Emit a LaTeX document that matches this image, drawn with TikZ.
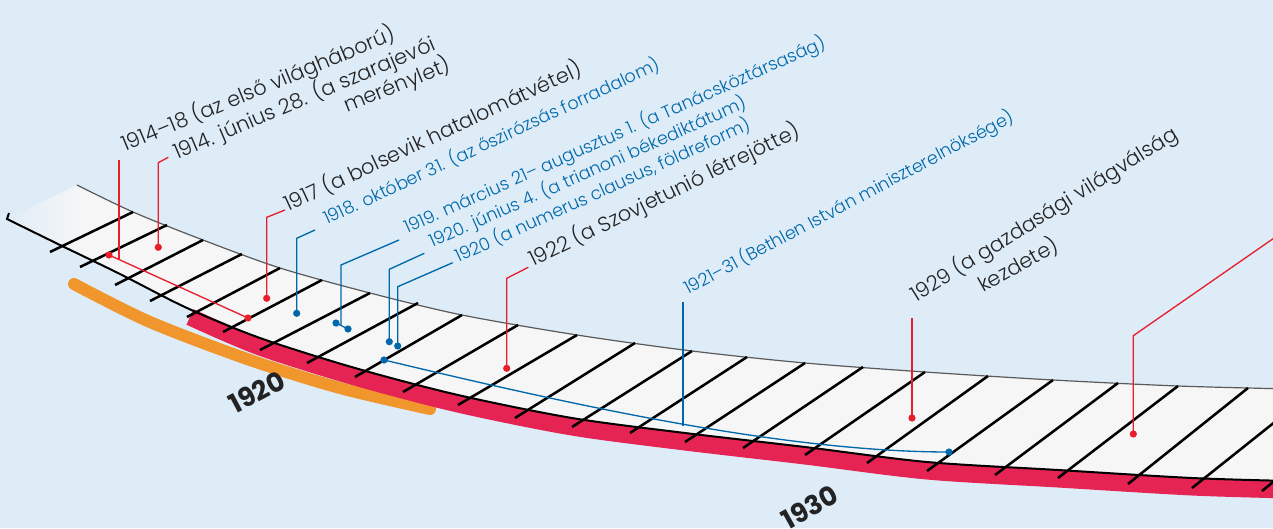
\documentclass[tikz,border=0pt]{standalone}
\usepackage{fontspec}
\setmainfont{Poppins Light}[BoldFont=Poppins Bold]
\usetikzlibrary{fadings}
\definecolor{bgc}{RGB}{222,236,248}
\definecolor{bandc}{RGB}{246,246,246}
\definecolor{cRed}{RGB}{232,30,45}
\definecolor{cBlue}{RGB}{0,104,170}
\definecolor{cBand}{RGB}{229,36,84}
\definecolor{cOrange}{RGB}{241,150,45}
\definecolor{cText}{RGB}{35,35,35}
\definecolor{cTop}{RGB}{90,90,90}
\tikzfading[name=fadeR, left color=transparent!0, right color=transparent!100]
\tikzset{
  ktxt/.style={anchor=base west, inner sep=0pt, font=\fontsize{15.6}{18}\selectfont, text=cText},
  btxt/.style={anchor=base west, inner sep=0pt, font=\fontsize{13.2}{15}\selectfont, text=cBlue},
  yr/.style={inner sep=0pt, font=\bfseries\fontsize{20}{22}\selectfont, text=cText},
  rline/.style={draw=cRed, line width=1pt},
  bline/.style={draw=cBlue, line width=1pt},
  rdot/.style={circle, fill=cRed, inner sep=0pt, minimum size=5.4pt},
  bdot/.style={circle, fill=cBlue, inner sep=0pt, minimum size=5.4pt},
  tickln/.style={draw=black, line width=1.9pt},
}
\begin{document}
\begin{tikzpicture}[x=0.75pt,y=-0.75pt]
\useasboundingbox (0,0) rectangle (1273,528);
\clip (0,0) rectangle (1273,528);
\fill[bgc] (0,0) rectangle (1273,528);
% band
\fill[bandc] plot[smooth] coordinates {(7,219) (60,245) (120,274) (187,308) (260,338) (355,368) (458,395) (572,418) (685,433) (805,447) (927,462) (1058,470) (1192,478) (1290,481)}
  -- plot[smooth] coordinates {(1290,389) (1178,386) (1053,380) (925,372) (805,363) (692,351) (577,335) (462,315) (370,293) (280,268) (203,240) (133,212) (77,185)} -- cycle;
\fill[bgc, path fading=fadeR] (0,170) rectangle (80,280);
% orange band
\draw[cOrange, line width=9pt, line cap=round] plot[smooth] coordinates {(74,284) (150,322) (250,360) (340,388) (430,409)};
% red band
\draw[cBand, line width=12.75pt] plot[smooth] coordinates {(190,317) (260,347) (355,377) (458,404) (572,427) (685,442) (805,456) (927,471) (1058,479) (1192,487) (1290,490)};
% top line
\draw[cTop, line width=0.9pt] plot[smooth] coordinates {(77,185) (133,212) (203,240) (280,268) (370,293) (462,315) (577,335) (692,351) (805,363) (925,372) (1053,380) (1178,386) (1290,389)};
% bottom line
\draw[black, line width=1.5pt] (9,213) -- plot[smooth] coordinates {(7,219) (60,245) (120,274) (187,308) (260,338) (355,368) (458,395) (572,418) (685,433) (805,447) (927,462) (1058,470) (1192,478) (1290,481)};
% ticks
\foreach \a/\b/\c/\d in {50/252/133/212, 80/267/167/225, 115/285/203/240, 150/301/242/254, 187/317/280/268, 223/332/322/280, 260/350/370/293, 307/363/418/303, 355/377/462/315, 403/392/518/325, 458/405/577/335, 515/418/635/343, 572/427/692/351, 630/433/747/357, 685/442/805/363, 743/448/863/367, 805/455/925/372, 867/463/988/376, 927/471/1053/380, 995/475/1118/383, 1058/478/1178/386, 1128/484/1248/388, 1192/488/1315/390, 1262/491/1385/391}
  \draw[tickln] (\a,\b) -- (\c,\d);

% ---- callouts ----
% 1914-18
\node[rdot] (d1a) at (109,255) {};
\node[rdot] (d1b) at (248,318) {};
\coordinate (c1t) at (119,160);
\coordinate (c1j) at (119,259.5);
\draw[rline] (d1a.center) -- (d1b.center);
\draw[rline] (c1t) -- (c1j);
% 1914 jun 28
\node[rdot] (d2) at (158.3,247.3) {};
\coordinate (c2a) at (168.3,157.3);
\coordinate (c2b) at (158.3,162.7);
\draw[rline] (c2a) -- (c2b) -- (d2.center);
% 1917
\node[rdot] (d3) at (266.7,298.3) {};
\coordinate (c3a) at (285,210);
\coordinate (c3b) at (266.7,217.3);
\draw[rline] (c3a) -- (c3b) -- (d3.center);
% 1918
\node[bdot] (d4) at (296.7,313.3) {};
\coordinate (c4a) at (315,230);
\coordinate (c4b) at (296.7,238.3);
\draw[bline] (c4a) -- (c4b) -- (d4.center);
% 1919
\node[bdot] (d5a) at (336,323) {};
\node[bdot] (d5b) at (348,329) {};
\coordinate (c5a) at (399,240);
\coordinate (c5b) at (341,265);
\coordinate (c5j) at (341,325.5);
\draw[bline] (d5a.center) -- (d5b.center);
\draw[bline] (c5a) -- (c5b) -- (c5j);
% 1920 jun 4
\node[bdot] (d6) at (389.3,341.7) {};
\coordinate (c6a) at (424.3,253.3);
\coordinate (c6b) at (389.3,269.3);
\draw[bline] (c6a) -- (c6b) -- (d6.center);
% 1920 numerus clausus
\node[bdot] (d7) at (397.7,346) {};
\coordinate (c7a) at (452.7,262.7);
\coordinate (c7b) at (397.7,286.7);
\draw[bline] (c7a) -- (c7b) -- (d7.center);
% 1921-31
\node[bdot] (d9a) at (384,360) {};
\node[bdot] (d9b) at (949,452) {};
\coordinate (c9t) at (683,302);
\coordinate (c9j) at (683,426);
\draw[bline] (d9a.center) .. controls (560,402) and (780,452) .. (d9b.center);
\draw[bline] (c9t) -- (c9j);
% 1922
\node[rdot] (d8) at (506.7,368.3) {};
\coordinate (c8a) at (528.3,267.3);
\coordinate (c8b) at (506.7,278.3);
\draw[rline] (c8a) -- (c8b) -- (d8.center);
% 1929
\node[rdot] (d10) at (912,418) {};
\coordinate (c10t) at (912,318);
\draw[rline] (c10t) -- (d10.center);
% right one
\node[rdot] (d11) at (1133.3,434) {};
\coordinate (c11b) at (1133.3,335.7);
\coordinate (c11a) at (1300,220);
\draw[rline] (c11a) -- (c11b) -- (d11.center);

% ---- texts ----
\node[ktxt, rotate=22.5] (t1) at (125,152) {1914–18 (az első világháború)};
\node[ktxt, rotate=23] (t2) at (177,160) {1914. június 28. (a szarajevói};
\node[ktxt, rotate=22] (t2b) at (347,113) {merénylet)};
\node[ktxt, rotate=25] (t3) at (288,212) {1917 (a bolsevik hatalomátvétel)};
\node[btxt, rotate=25] (t4) at (327,225) {1918. október 31. (az őszirózsás forradalom)};
\node[btxt, rotate=24] (t5) at (407,234) {1919. március 21– augusztus 1. (a Tanácsköztársaság)};
\node[btxt, rotate=24] (t6) at (432,248) {1920. június 4. (a trianoni békediktátum)};
\node[btxt, rotate=24.5] (t7) at (458,263) {1920 (a numerus clausus, földreform)};
\node[ktxt, rotate=26] (t8) at (533,267) {1922 (a Szovjetunió létrejötte)};
\node[btxt, rotate=28] (t9) at (688,295) {1921–31 (Bethlen István miniszterelnöksége)};
\node[ktxt, rotate=32] (t10) at (916,303) {1929 (a gazdasági világválság};
\node[ktxt, rotate=29] (t10b) at (983,293) {kezdete)};

\node[yr, rotate=28] (y1920) at (257,392) {1920};
\node[yr, rotate=29] (y1930) at (810,507) {1930};
\end{tikzpicture}
\end{document}
